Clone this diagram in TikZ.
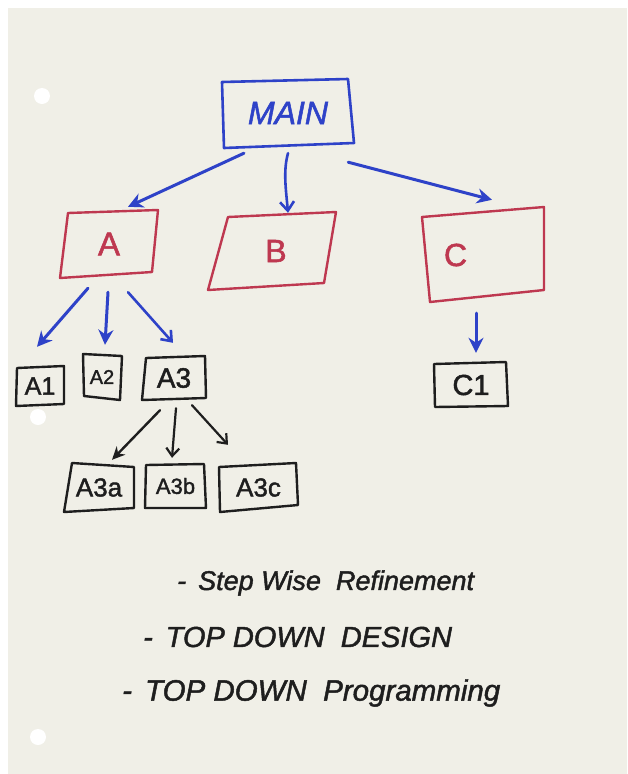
\documentclass[tikz,border=0pt]{standalone}
\usepackage{fontspec}
\setmainfont{Liberation Sans}
\newfontfamily\penfont{Liberation Sans}[FakeBold=1.6]
\usetikzlibrary{arrows.meta,calc}
\definecolor{paper}{HTML}{F0EFE7}
\definecolor{penblue}{HTML}{2E42C8}
\definecolor{penred}{HTML}{BE3850}
\definecolor{penblack}{HTML}{1E1E1E}
\newcommand\hdbox[6]{\draw[#2] ($(#1.center)+(#3)$) -- ($(#1.center)+(#4)$) -- ($(#1.center)+(#5)$) -- ($(#1.center)+(#6)$) -- cycle;}
\begin{document}
\begin{tikzpicture}[x=1pt,y=-1pt,
  box/.style={draw=none,inner sep=0pt,align=center},
  bluebox/.style={draw=penblue,line width=2.6pt,line join=round},
  redbox/.style={draw=penred,line width=2.4pt,line join=round},
  blackbox/.style={draw=penblack,line width=2.4pt,line join=round},
  bluearrow/.style={draw=penblue,line width=3pt,line cap=round,-{Stealth[length=15pt,width=15pt]}},
  bluebarb/.style={draw=penblue,line width=2.6pt,line cap=round,-{Straight Barb[length=9pt,width=14pt,line width=2.6pt]}},
  blackarrow/.style={draw=penblack,line width=2.4pt,line cap=round,-{Stealth[length=13pt,width=12pt]}},
  blackbarb/.style={draw=penblack,line width=2.2pt,line cap=round,-{Straight Barb[length=8pt,width=13pt,line width=2.2pt]}},
  note/.style={anchor=west,inner sep=0pt,text=penblack}
]
\fill[white] (0,0) rectangle (627,774);
\fill[paper] (8,8) rectangle (627,774);
\fill[white] (42,96) circle (8);
\fill[white] (38,417) circle (8);
\fill[white] (38,737) circle (8);
\useasboundingbox (0,0) rectangle (627,774);

% nodes
\node[box,minimum width=132,minimum height=66,text=penblue,font=\penfont\fontsize{32}{36}\selectfont\itshape] (MAIN) at (288,113) {MAIN};
\node[box,minimum width=98,minimum height=68,text=penred,font=\penfont\fontsize{33}{36}\selectfont] (A) at (109,244) {A};
\node[box,minimum width=128,minimum height=78,text=penred,font=\penfont\fontsize{32}{36}\selectfont] (B) at (272,251) {\hspace*{8pt}B};
\node[box,minimum width=122,minimum height=95,text=penred,font=\penfont\fontsize{32}{36}\selectfont] (C) at (483,255) {\makebox[122pt][l]{\hspace{22pt}C}};
\node[box,minimum width=48,minimum height=40,text=penblack,font=\penfont\fontsize{25}{28}\selectfont] (A1) at (40,386) {A1};
\node[box,minimum width=40,minimum height=46,text=penblack,font=\penfont\fontsize{20}{22}\selectfont] (A2) at (102,377) {A2};
\node[box,minimum width=64,minimum height=44,text=penblack,font=\penfont\fontsize{28}{30}\selectfont] (A3) at (174,378) {A3};
\node[box,minimum width=74,minimum height=45,text=penblack,font=\penfont\fontsize{29}{32}\selectfont] (C1) at (471,385) {C1};
\node[box,minimum width=70,minimum height=49,text=penblack,font=\penfont\fontsize{26}{30}\selectfont] (A3a) at (99,487.5) {A3a};
\node[box,minimum width=61,minimum height=44,text=penblack,font=\penfont\fontsize{22}{26}\selectfont] (A3b) at (175.5,486) {A3b};
\node[box,minimum width=79,minimum height=49,text=penblack,font=\penfont\fontsize{26}{30}\selectfont] (A3c) at (258.5,487.5) {A3c};

% hand-drawn outlines
\hdbox{MAIN}{bluebox}{-66,-31}{60,-34}{66,30}{-64,35}
\hdbox{A}{redbox}{-41,-31}{49,-34}{43,28}{-49,34}
\hdbox{B}{redbox}{-44,-34}{64,-39}{52,32}{-64,39}
\hdbox{C}{redbox}{-61,-38}{61,-48}{61,35}{-53,47}
\hdbox{A1}{blackbox}{-23,-18}{24,-20}{24,18}{-24,20}
\hdbox{A2}{blackbox}{-19,-23}{20,-21}{18,23}{-18,19}
\hdbox{A3}{blackbox}{-28,-20}{31,-22}{32,20}{-32,22}
\hdbox{C1}{blackbox}{-37,-21}{35,-23}{37,21}{-36,22}
\hdbox{A3a}{blackbox}{-27,-24.5}{35,-20.5}{35,20.5}{-35,24.5}
\hdbox{A3b}{blackbox}{-29.5,-21}{28.5,-22}{30.5,22}{-30.5,22}
\hdbox{A3c}{blackbox}{-39.5,-20.5}{37.5,-24.5}{39.5,17.5}{-38.5,24.5}

% connectors
\draw[bluearrow] ($(MAIN.south)+(-44,7)$) -- ($(A.north)+(19,-3)$);
\draw[bluebarb] ($(MAIN.south)+(0,7)$) .. controls ($(MAIN.south)+(-5,25)$) and ($(B.north)+(14,-22)$) .. ($(B.north)+(16,1)$);
\draw[bluearrow] ($(MAIN.south east)+(-6,16)$) -- ($(C.north)+(9,-7.5)$);
\draw[bluearrow] ($(A.south)+(-21,10)$) -- ($(A1.north)+(-3,-19)$);
\draw[bluearrow] ($(A.south)+(-1,14)$) -- ($(A2.north)+(3,-9)$);
\draw[bluebarb] ($(A.south)+(19,14)$) -- ($(A3.north)+(-1,-13)$);
\draw[bluearrow] ($(C.south)+(-7,10.5)$) -- ($(C1.north)+(5,-9.5)$);
\draw[blackarrow] ($(A3.south)+(-14,10)$) -- ($(A3a.north)+(13,-3)$);
\draw[blackbarb] ($(A3.south)+(2,8)$) -- ($(A3b.north)+(-3.5,-6)$);
\draw[blackbarb] ($(A3.south)+(18,5)$) -- ($(A3c.north)+(-30.5,-18)$);

% notes
\node[note,font=\penfont\fontsize{27}{30}\selectfont\itshape] (n1) at (177,583) {-\, Step Wise\ \ Refinement};
\node[note,font=\penfont\fontsize{29}{32}\selectfont\itshape] (n2) at (143,637) {-\, TOP DOWN\ \ DESIGN};
\node[note,font=\penfont\fontsize{29.5}{32}\selectfont\itshape] (n3) at (122,693) {-\, TOP DOWN\ \ Programming};
\end{tikzpicture}
\end{document}
